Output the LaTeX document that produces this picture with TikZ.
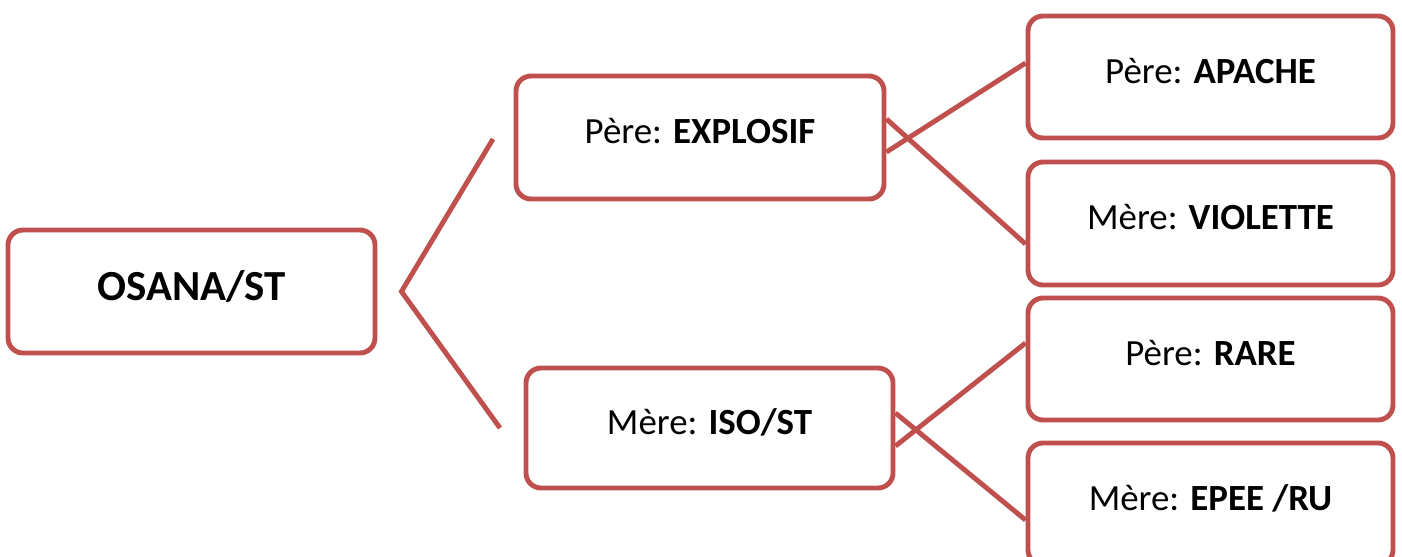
\documentclass[tikz,border=0pt]{standalone}
\usepackage{fontspec}
\setmainfont{Carlito}
\definecolor{pedired}{HTML}{C0504D}
\tikzset{
  horse/.style={draw=pedired, line width=1.4pt, rounded corners=0.15cm, fill=white,
    minimum width=3.65cm, minimum height=1.22cm, inner sep=0pt,
    text height=0.30cm, text depth=0.18cm, font=\fontsize{10.5}{12}\selectfont},
  link/.style={draw=pedired, line width=1.4pt}
}
\begin{document}
\begin{tikzpicture}
			\useasboundingbox (0,0) rectangle (14.02,-5.56);
			% Horse itself
			\node[horse, minimum width=3.67cm, minimum height=1.23cm, text height=0.36cm,
			  font=\fontsize{12.2}{14}\selectfont\bfseries] (root) at (1.915,-2.915) {OSANA/ST};
			
			% Parents
			\node[horse, minimum width=3.68cm, minimum height=1.23cm] (sire) at (7.00,-1.375) {Père: \textbf{EXPLOSIF}};
			\node[horse, minimum width=3.67cm, minimum height=1.20cm] (dam) at (7.095,-4.28) {Mère: \textbf{ISO/ST}};
			
			% Grandparents
			\node[horse] (siresire) at (12.105,-0.77) {Père: \textbf{APACHE}};
			\node[horse, minimum height=1.23cm] (siredam) at (12.105,-2.235) {Mère: \textbf{VIOLETTE}};
			\node[horse] (damsire) at (12.105,-3.59) {Père: \textbf{RARE}};
			\node[horse] (damdam) at (12.105,-5.04) {Mère: \textbf{EPEE /RU}};
			
			% Fork from the horse to its parents
			\coordinate (fork) at ([xshift=0.24cm]root.east);
			\coordinate (forkup) at (4.93,-1.39);
			\coordinate (forkdown) at (5.00,-4.28);
			\draw[link] (forkup) -- (fork) -- (forkdown);
			
			% Crossed links to the grandparents
			\draw[link] ([yshift=0.185cm]sire.east) -- ([yshift=-0.205cm]siredam.west);
			\draw[link] ([yshift=-0.145cm]sire.east) -- ([yshift=0.14cm]siresire.west);
			\draw[link] ([yshift=0.15cm]dam.east) -- ([yshift=-0.16cm]damdam.west);
			\draw[link] ([yshift=-0.18cm]dam.east) -- ([yshift=0.16cm]damsire.west);
		\end{tikzpicture}
\end{document}
